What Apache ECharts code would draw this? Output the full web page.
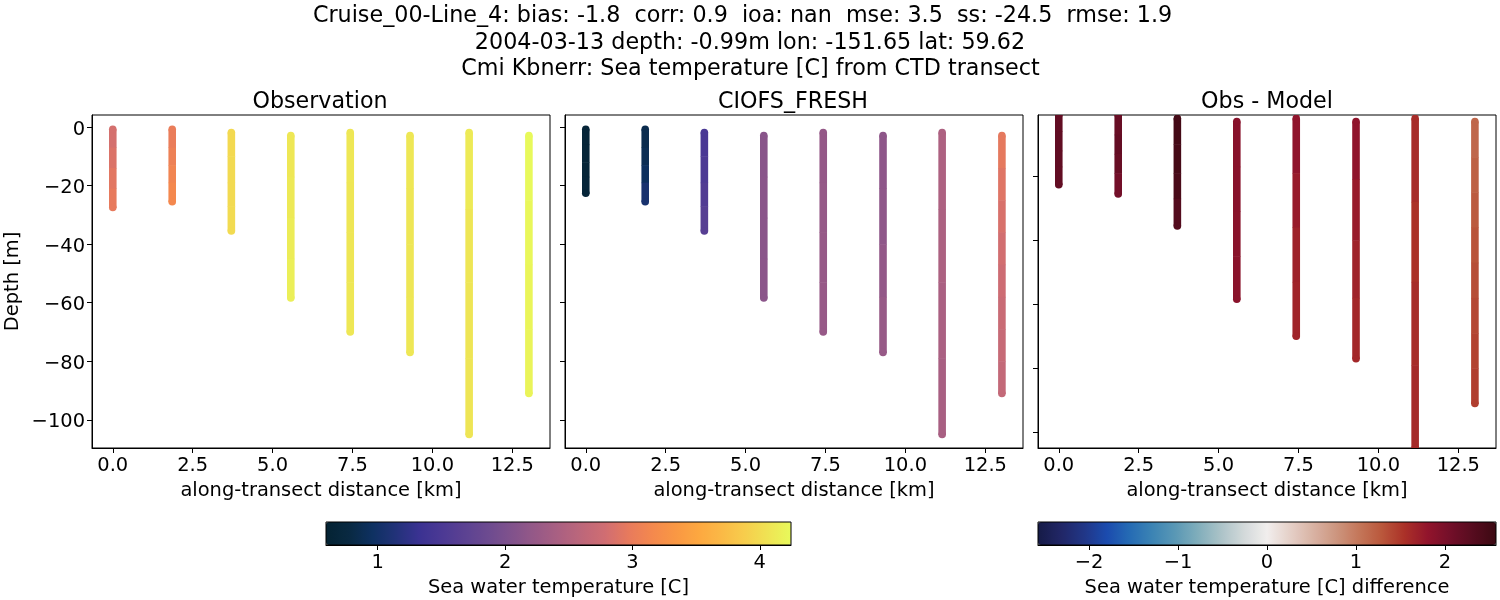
<!DOCTYPE html>
<html lang="en">
<head>
    <meta charset="UTF-8">
    <title>Cruise_00-Line_4</title>
    <script src="https://cdn.jsdelivr.net/npm/echarts@6/dist/echarts.min.js"></script>
    <style>
        html, body { margin: 0; padding: 0; background: #fff; }
    </style>
</head>
<body>
<div id="main" style="width:1500px;height:600px;"></div>
<script type="text/javascript">
// along-transect position of each CTD cast [km]
var distances = [0, 1.86, 3.71, 5.57, 7.43, 9.3, 11.15, 13.02];

// depths read per cast [m]
var obsDepths = [
    [-0.8, -7, -14, -21, -27.5],
    [-0.8, -7, -13, -19, -25.5],
    [-1.9, -10, -19, -27, -35.5],
    [-2.9, -17, -31, -45, -58.4],
    [-1.9, -19, -36, -53, -70],
    [-2.9, -21, -40, -58, -77],
    [-1.9, -28, -53, -79, -105],
    [-2.9, -25, -47, -69, -91]
];
var modelDepths = [
    [-0.8, -6, -12, -17, -22.6],
    [-0.8, -7, -13, -19, -25.5],
    [-1.9, -10, -19, -27, -35.5],
    [-2.9, -17, -31, -45, -58.4],
    [-1.9, -19, -36, -53, -70],
    [-2.9, -21, -40, -58, -77],
    [-1.9, -28, -53, -79, -105],
    [-2.9, -14, -25, -36, -47, -58, -69, -80, -91]
];

// sea temperature at those depths [C]
var obsTemps = [
    [2.80, 2.84, 2.90, 2.95, 2.98],
    [2.98, 3.03, 3.08, 3.13, 3.16],
    [3.98, 3.98, 3.99, 3.99, 4.00],
    [4.09, 4.10, 4.12, 4.15, 4.17],
    [4.10, 4.09, 4.09, 4.09, 4.10],
    [4.10, 4.09, 4.09, 4.09, 4.10],
    [4.14, 4.09, 4.08, 4.08, 4.08],
    [4.24, 4.23, 4.21, 4.20, 4.19]
];
var modelTemps = [
    [0.65, 0.65, 0.66, 0.66, 0.67],
    [0.84, 0.86, 0.90, 0.98, 1.14],
    [1.48, 1.50, 1.54, 1.60, 1.66],
    [2.12, 2.13, 2.13, 2.14, 2.15],
    [2.22, 2.22, 2.23, 2.24, 2.25],
    [2.16, 2.17, 2.19, 2.23, 2.27],
    [2.45, 2.44, 2.43, 2.41, 2.40],
    [2.98, 2.93, 2.87, 2.82, 2.78, 2.74, 2.70, 2.67, 2.64]
];
var diffTemps = [
    [2.20, 2.21, 2.22, 2.22, 2.20],
    [2.14, 2.18, 2.20, 2.12, 2.00],
    [2.50, 2.48, 2.46, 2.40, 2.28],
    [1.88, 1.88, 1.88, 1.87, 1.87],
    [1.85, 1.78, 1.70, 1.66, 1.65],
    [1.85, 1.78, 1.70, 1.64, 1.62],
    [1.65, 1.52, 1.56, 1.60, 1.62],
    [1.13, 1.19, 1.24, 1.29, 1.33, 1.37, 1.41, 1.44, 1.47]
];

var xTicks = [0, 2.5, 5, 7.5, 10, 12.5];
var depthTicks = [0, -20, -40, -60, -80, -100];
var diffDepthTicks = [-20, -40, -60, -80, -100];
var tempTicks = [1, 2, 3, 4];
var diffTicks = [-2, -1, 0, 1, 2];

var thermal = ['#042333', '#092942', '#0e3161', '#223279', '#3a3292', '#4c3994', '#5c4292', '#6d4b90', '#81528c', '#965987', '#aa6082', '#bd677a', '#d06d72', '#e77a5d', '#f4884e', '#f99744', '#fda740', '#fbb946', '#f7cd4c', '#efe354', '#e8fa5b'];
var balance = ['#161b47', '#212666', '#213686', '#1b4bae', '#256bb4', '#3c84b4', '#5a98b5', '#81aebb', '#acc3c8', '#d3d9da', '#f1eeed', '#e5d0c8', '#d9b3a4', '#cd9680', '#c4775a', '#ba583c', '#ab3128', '#92142c', '#730f29', '#560c1f', '#3c0912'];

var fontName = 'DejaVu Sans';
var castWidth = 7.6;

// one item per stretch of a cast: distance, depth from, depth to, value, end flag
function segments(depths, temps) {
    var items = [];
    distances.forEach(function (d, i) {
        var last = depths[i].length - 2;
        for (var k = 0; k <= last; k++) {
            var flag = k === 0 ? 1 : (k === last ? 2 : 0);
            items.push([d, depths[i][k], depths[i][k + 1], (temps[i][k] + temps[i][k + 1]) / 2, flag]);
        }
    });
    return items;
}

function renderCast(params, api) {
    var a = api.coord([api.value(0), api.value(1)]);
    var b = api.coord([api.value(0), api.value(2)]);
    var color = api.visual('color');
    var rect = params.coordSys;
    var children = [{
        type: 'line',
        shape: { x1: a[0], y1: a[1], x2: b[0], y2: b[1] + 0.5 },
        style: { stroke: color, lineWidth: castWidth, lineCap: 'butt', fill: null }
    }];
    var flag = api.value(4);
    if (flag) {
        var end = flag === 1 ? a : b;
        children.push({
            type: 'circle',
            shape: { cx: end[0], cy: end[1], r: castWidth / 2 },
            style: { fill: color }
        });
    }
    return {
        type: 'group',
        children: children,
        clipPath: { type: 'rect', shape: { x: rect.x, y: rect.y, width: rect.width, height: rect.height } }
    };
}

function minus(v) {
    return String(v).replace('-', '\u2212');
}

function castSeries(idx, data) {
    return {
        type: 'custom',
        xAxisIndex: idx,
        yAxisIndex: idx,
        renderItem: renderCast,
        encode: { x: 0, y: [1, 2] },
        data: data,
        silent: true,
        animation: false
    };
}

function panelX(idx) {
    return {
        type: 'value', gridIndex: idx, min: -0.65, max: 13.68,
        name: 'along-transect distance [km]', nameLocation: 'middle', nameGap: 33,
        nameTextStyle: { fontFamily: fontName, fontSize: 19.44, color: '#000' },
        axisLine: { show: true, onZero: false, lineStyle: { color: '#000', width: 1 } },
        axisTick: { show: true, length: 5, customValues: xTicks, lineStyle: { color: '#000' } },
        axisLabel: {
            show: true, customValues: xTicks, margin: 8,
            fontFamily: fontName, fontSize: 19.44, color: '#000',
            formatter: function (v) { return v.toFixed(1); }
        },
        splitLine: { show: false }
    };
}

function panelY(idx, min, max, ticks, labels) {
    return {
        type: 'value', gridIndex: idx, min: min, max: max,
        name: labels ? 'Depth [m]' : '', nameLocation: 'middle', nameGap: 70,
        nameTextStyle: { fontFamily: fontName, fontSize: 19.44, color: '#000' },
        axisLine: { show: true, onZero: false, lineStyle: { color: '#000', width: 1 } },
        axisTick: { show: true, length: 5, customValues: ticks, lineStyle: { color: '#000' } },
        axisLabel: {
            show: labels, customValues: ticks, margin: 7,
            formatter: function (v) { return '{v|' + minus(v) + '}'; },
            rich: { v: { fontFamily: fontName, fontSize: 19.44, color: '#000', padding: [5, 0, 0, 0] } }
        },
        splitLine: { show: false }
    };
}

function barX(idx, min, max, ticks, name) {
    return {
        type: 'value', gridIndex: idx, min: min, max: max,
        name: name, nameLocation: 'middle', nameGap: 33,
        nameTextStyle: { fontFamily: fontName, fontSize: 19.44, color: '#000' },
        axisLine: { show: true, onZero: false, lineStyle: { color: '#000', width: 1 } },
        axisTick: { show: true, length: 5, customValues: ticks, lineStyle: { color: '#000' } },
        axisLabel: {
            show: true, customValues: ticks, margin: 8,
            fontFamily: fontName, fontSize: 19.44, color: '#000',
            formatter: minus
        },
        splitLine: { show: false }
    };
}

function barY(idx) {
    return { type: 'value', gridIndex: idx, min: 0, max: 1, show: false };
}

function panelTitle(text, x) {
    return { text: text, left: x, top: 91, textAlign: 'center', padding: 0,
             textStyle: { fontFamily: fontName, fontSize: 22.2, fontWeight: 'normal', color: '#000' } };
}

function headline(text, x, y) {
    return { text: text, left: x, top: y, textAlign: 'center', padding: 0,
             textStyle: { fontFamily: fontName, fontSize: 22.25, fontWeight: 'normal', color: '#000' } };
}

var frame = { show: true, borderColor: '#000', borderWidth: 1, backgroundColor: 'transparent', containLabel: false };

var option = {
    backgroundColor: '#fff',
    animation: false,
    title: [
        headline('Cruise_00-Line_4: bias: -1.8  corr: 0.9  ioa: nan  mse: 3.5  ss: -24.5  rmse: 1.9', 742.5, 5),
        headline('2004-03-13 depth: -0.99m lon: -151.65 lat: 59.62', 750, 32),
        headline('Cmi Kbnerr: Sea temperature [C] from CTD transect', 750.5, 58),
        panelTitle('Observation', 320),
        panelTitle('CIOFS_FRESH', 793),
        panelTitle('Obs - Model', 1267)
    ],
    grid: [
        Object.assign({ left: 92, top: 115, width: 458, height: 333 }, frame),
        Object.assign({ left: 565, top: 115, width: 458, height: 333 }, frame),
        Object.assign({ left: 1038, top: 115, width: 458, height: 333 }, frame),
        Object.assign({ left: 326, top: 522, width: 465, height: 23, z: 5 }, frame),
        Object.assign({ left: 1038, top: 522, width: 458, height: 23, z: 5 }, frame)
    ],
    xAxis: [
        panelX(0), panelX(1), panelX(2),
        barX(3, 0.594, 4.245, tempTicks, 'Sea water temperature [C]'),
        barX(4, -2.573, 2.573, diffTicks, 'Sea water temperature [C] difference')
    ],
    yAxis: [
        panelY(0, -109.6, 4.1, depthTicks, true),
        panelY(1, -109.6, 4.1, depthTicks, false),
        panelY(2, -104.9, -0.84, diffDepthTicks, false),
        barY(3), barY(4)
    ],
    visualMap: [
        {
            type: 'continuous', seriesIndex: [0, 1], dimension: 3, min: 0.594, max: 4.245,
            inRange: { color: thermal }, orient: 'horizontal', left: 326, top: 522,
            itemWidth: 23, itemHeight: 465, padding: 0, calculable: false, hoverLink: false,
            text: null, showLabel: false, z: 1
        },
        {
            type: 'continuous', seriesIndex: [2], dimension: 3, min: -2.573, max: 2.573,
            inRange: { color: balance }, orient: 'horizontal', left: 1038, top: 522,
            itemWidth: 23, itemHeight: 458, padding: 0, calculable: false, hoverLink: false,
            text: null, showLabel: false, z: 1
        }
    ],
    series: [
        castSeries(0, segments(obsDepths, obsTemps)),
        castSeries(1, segments(modelDepths, modelTemps)),
        castSeries(2, segments(modelDepths, diffTemps))
    ]
};

var myChart = echarts.init(document.getElementById('main'));
myChart.setOption(option);
</script>
</body>
</html>
